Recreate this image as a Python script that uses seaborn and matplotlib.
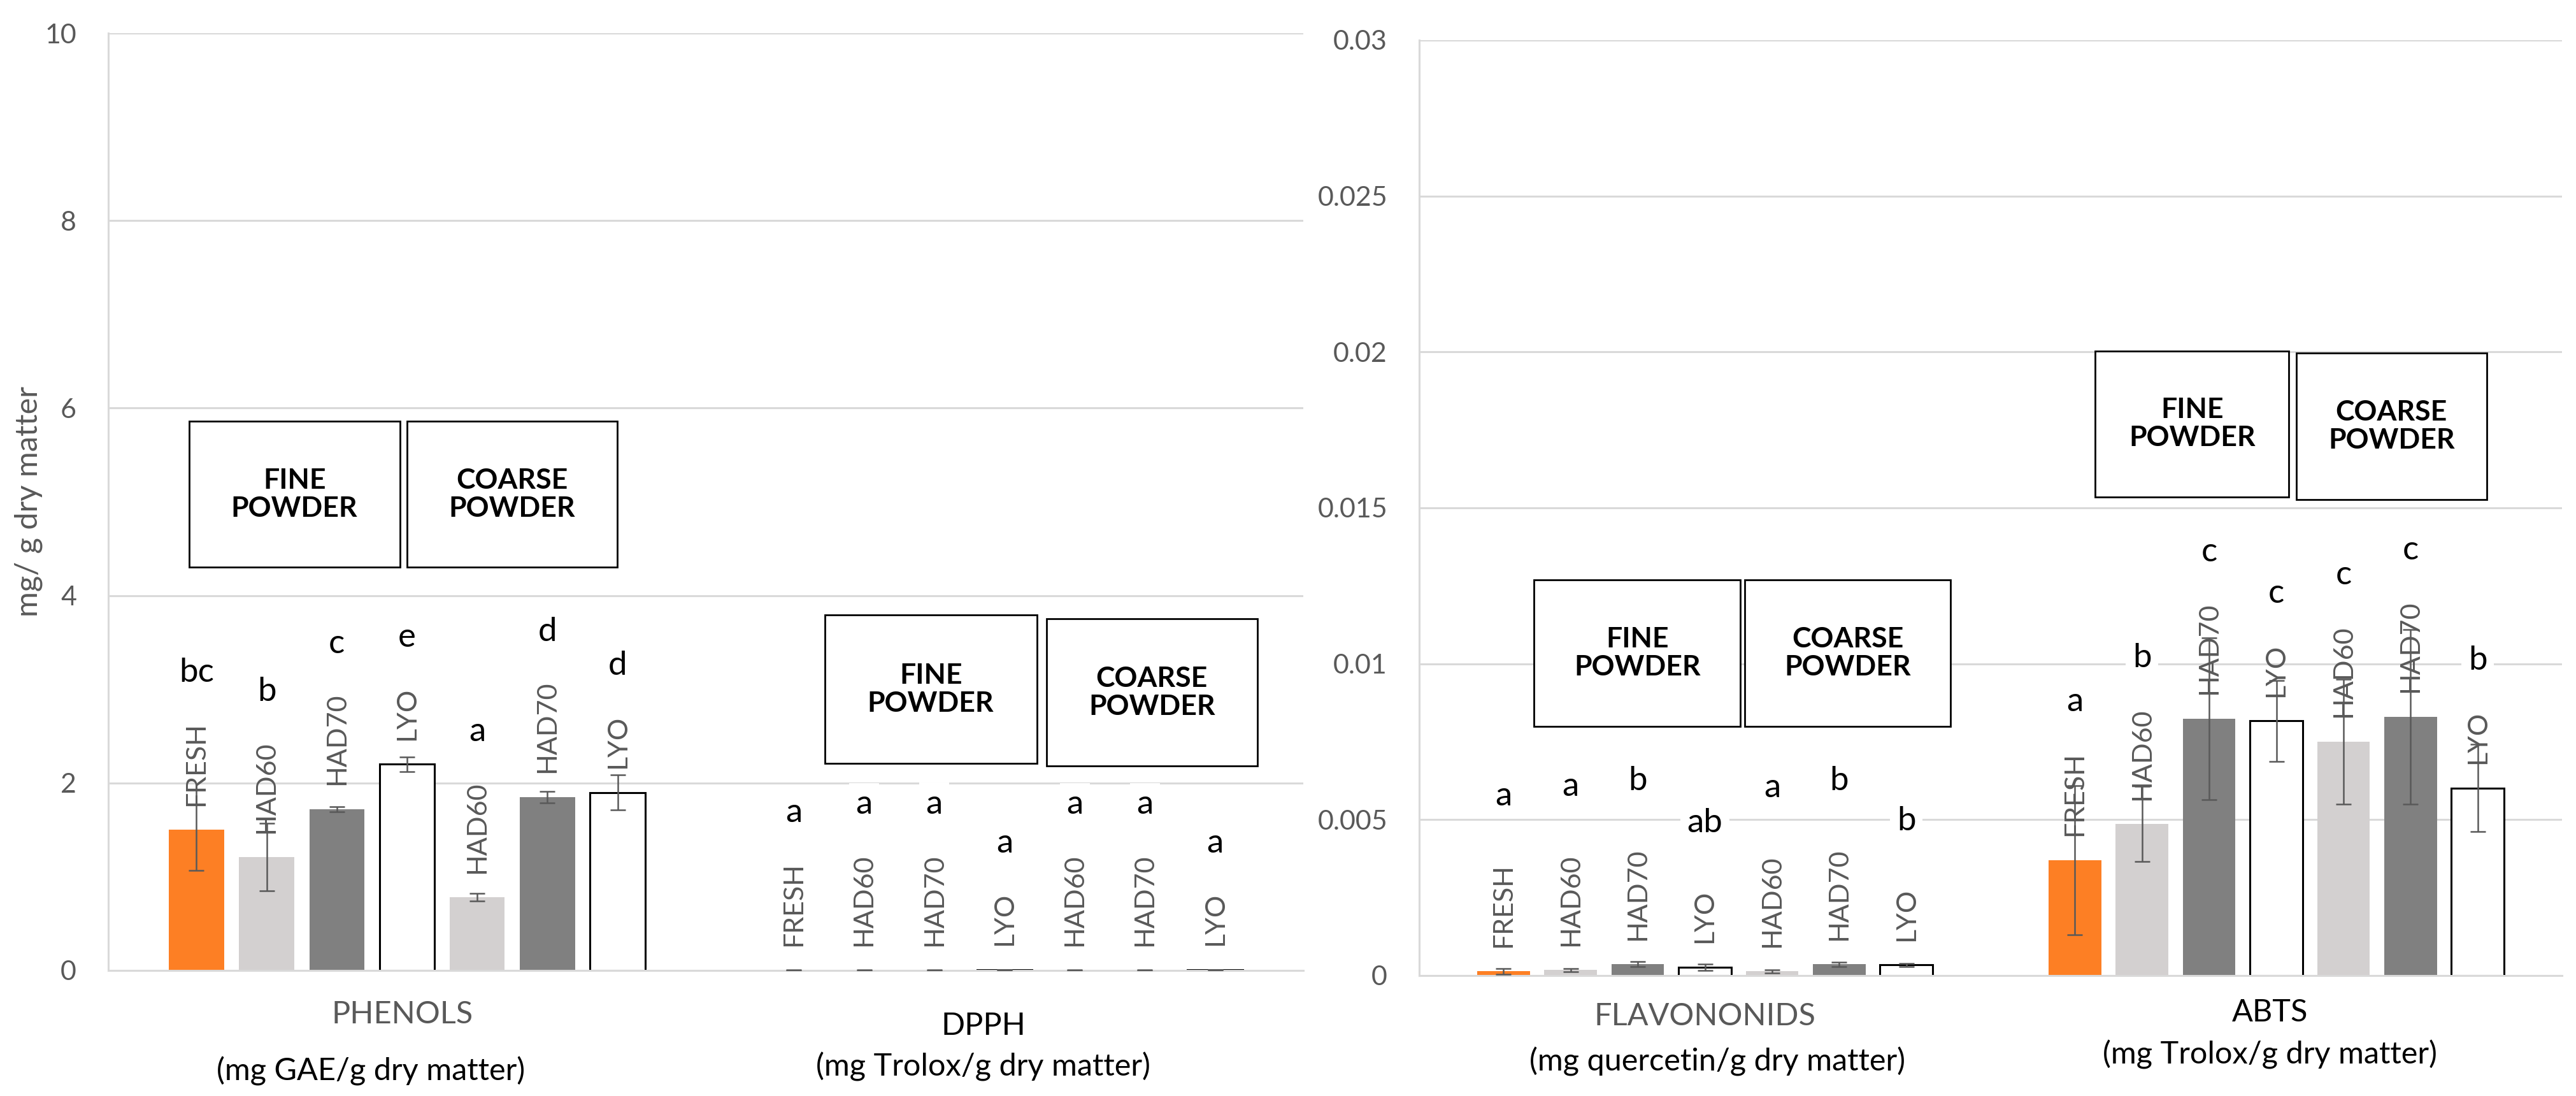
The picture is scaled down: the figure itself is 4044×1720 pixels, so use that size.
import numpy as np
import pandas as pd
import seaborn as sns
import matplotlib.pyplot as plt
from matplotlib.patches import Rectangle
from matplotlib.container import BarContainer
from matplotlib.ticker import FuncFormatter

sns.set_style('white')
plt.rcParams['font.family'] = ['Lato', 'DejaVu Sans']

# samples: fresh, then fine powder and coarse powder dryings
sample_keys = ['FRESH', 'FINE HAD60', 'FINE HAD70', 'FINE LYO',
               'COARSE HAD60', 'COARSE HAD70', 'COARSE LYO']
sample_names = ['FRESH', 'HAD60', 'HAD70', 'LYO', 'HAD60', 'HAD70', 'LYO']
sample_colors = ['#FD7F24', '#D3D0D0', '#808080', '#FFFFFF', '#D3D0D0', '#808080', '#FFFFFF']

# left chart (mg/g dry matter)
phenols = [1.50, 1.21, 1.72, 2.20, 0.78, 1.85, 1.90]
phenols_err = [0.43, 0.36, 0.03, 0.08, 0.04, 0.06, 0.19]
phenols_letters = ['bc', 'b', 'c', 'e', 'a', 'd', 'd']

dpph = [0.002, 0.002, 0.006, 0.008, 0.002, 0.003, 0.008]
dpph_err = [0.002, 0.002, 0.003, 0.002, 0.002, 0.002, 0.002]
dpph_letters = ['a', 'a', 'a', 'a', 'a', 'a', 'a']

# right chart
flavonoids = [0.00014, 0.00018, 0.00036, 0.00027, 0.00014, 0.00036, 0.00034]
flavonoids_err = [0.00009, 0.00005, 0.00008, 0.00010, 0.00005, 0.00007, 0.00005]
flavonoids_letters = ['a', 'a', 'b', 'ab', 'a', 'b', 'b']

abts = [0.0037, 0.00486, 0.00824, 0.00817, 0.0075, 0.0083, 0.00601]
abts_err = [0.0024, 0.0012, 0.0026, 0.0013, 0.0020, 0.0028, 0.0014]
abts_letters = ['a', 'b', 'c', 'c', 'c', 'c', 'b']

grey = '#595959'
light = '#D9D9D9'


def draw_panel(ax, measures, vals, errs, letters, ymax, ystep, letter_gap, titles, boxes):
    df = pd.DataFrame({'measure': np.repeat(measures, 7),
                       'sample': sample_keys * 2,
                       'value': vals[0] + vals[1]})
    sns.barplot(data=df, x='measure', y='value', hue='sample', order=measures,
                hue_order=sample_keys, palette=dict(zip(sample_keys, sample_colors)),
                width=0.8225, gap=0.217, errorbar=None, legend=False, ax=ax,
                saturation=1, zorder=2)

    ax.set_xlim(-0.5, 1.5)
    ax.set_ylim(0, ymax)
    ax.set_yticks(np.arange(0, ymax + ystep / 2, ystep))
    ax.yaxis.set_major_formatter(FuncFormatter(lambda v, p: f'{round(v, 4):g}'))
    ax.tick_params(axis='y', length=0, pad=36, labelsize=31, labelcolor=grey)
    ax.set_xticks([])
    ax.set_xlabel('')
    ax.set_ylabel('')
    ax.set_axisbelow(True)
    ax.yaxis.grid(True, color=light, lw=2.2)
    for s in ['top', 'right']:
        ax.spines[s].set_visible(False)
    for s in ['left', 'bottom']:
        ax.spines[s].set_color(light)
        ax.spines[s].set_linewidth(2.2)

    # bars: one container per sample, bars in measure order
    bar_sets = [c for c in ax.containers if isinstance(c, BarContainer)]
    for i, cont in enumerate(bar_sets):
        for j, p in enumerate(cont.patches):
            if sample_names[i] == 'LYO':
                p.set_edgecolor('black')
                p.set_linewidth(2.2)
            else:
                p.set_linewidth(0)
            cx = p.get_x() + p.get_width() / 2
            top = p.get_height()
            ax.errorbar(cx, top, yerr=errs[j][i], fmt='none', ecolor=grey,
                        elinewidth=1.8, capsize=8.5, capthick=1.8, zorder=4)
            lab = ax.annotate(sample_names[i], xy=(cx, top), xytext=(0, 27),
                              textcoords='offset points', rotation=90,
                              ha='center', va='bottom', fontsize=31, color=grey, zorder=3)
            ax.annotate(letters[j][i], xy=(0.5, 1), xycoords=lab,
                        xytext=(0, letter_gap[j]), textcoords='offset points',
                        ha='center', va='center', fontsize=38, color='black',
                        bbox=dict(boxstyle='square,pad=0.2', fc='white', ec='none'),
                        zorder=3)

    # category names and units under the axis
    for j, (name, ncolor, unit, dx1, off1, dx2, off2) in enumerate(titles):
        ax.annotate(name, xy=(j, 0), xycoords=('data', 'axes fraction'),
                    xytext=(dx1, off1), textcoords='offset points', ha='center',
                    va='center', fontsize=35, color=ncolor, annotation_clip=False)
        ax.annotate(unit, xy=(j, 0), xycoords=('data', 'axes fraction'),
                    xytext=(dx2, off2), textcoords='offset points', ha='center',
                    va='center', fontsize=35, color='black', annotation_clip=False)

    # FINE / COARSE powder boxes
    for x0, x1, y0, y1, txt in boxes:
        ax.add_patch(Rectangle((x0, y0), x1 - x0, y1 - y0, fc='white', ec='black',
                               lw=2.0, zorder=5))
        ax.text((x0 + x1) / 2, (y0 + y1) / 2, txt, ha='center', va='center',
                fontsize=32, fontweight='bold', color='black', zorder=6,
                linespacing=1.12)


fig = plt.figure(figsize=(40.44, 17.2), dpi=100)
ax1 = fig.add_axes([170 / 4044, 1 - 1523 / 1720, 1876 / 4044, 1471 / 1720])
ax2 = fig.add_axes([2228 / 4044, 1 - 1531 / 1720, 1794 / 4044, 1468 / 1720])

draw_panel(ax1, ['PHENOLS', 'DPPH'], [phenols, dpph], [phenols_err, dpph_err],
           [phenols_letters, dpph_letters], 10, 2, [56, 56],
           [('PHENOLS', grey, '(mg GAE/g dry matter)', -5, -50, -41, -114),
            ('DPPH', 'black', '(mg Trolox/g dry matter)', -24, -63, -24, -109)],
           [(-0.365, -0.012, 4.30, 5.86, 'FINE\nPOWDER'),
            (0.0, 0.352, 4.30, 5.86, 'COARSE\nPOWDER'),
            (0.699, 1.054, 2.21, 3.79, 'FINE\nPOWDER'),
            (1.070, 1.423, 2.18, 3.75, 'COARSE\nPOWDER')])

draw_panel(ax2, ['FLAVONONIDS', 'ABTS'], [flavonoids, abts], [flavonoids_err, abts_err],
           [flavonoids_letters, abts_letters], 0.03, 0.005, [76, 57],
           [('FLAVONONIDS', grey, '(mg quercetin/g dry matter)', 0, -46, 14, -97),
            ('ABTS', 'black', '(mg Trolox/g dry matter)', -7, -42, -7, -89)],
           [(-0.299, 0.062, 0.00799, 0.01269, 'FINE\nPOWDER'),
            (0.070, 0.430, 0.00799, 0.01269, 'COARSE\nPOWDER'),
            (0.683, 1.022, 0.01535, 0.02003, 'FINE\nPOWDER'),
            (1.035, 1.368, 0.01527, 0.01997, 'COARSE\nPOWDER')])

ax1.set_ylabel('mg/ g dry matter', fontsize=35, color=grey)
ax1.yaxis.set_label_coords(-0.055, 0.5)

fig.savefig('out.png', dpi=100, facecolor='white')
